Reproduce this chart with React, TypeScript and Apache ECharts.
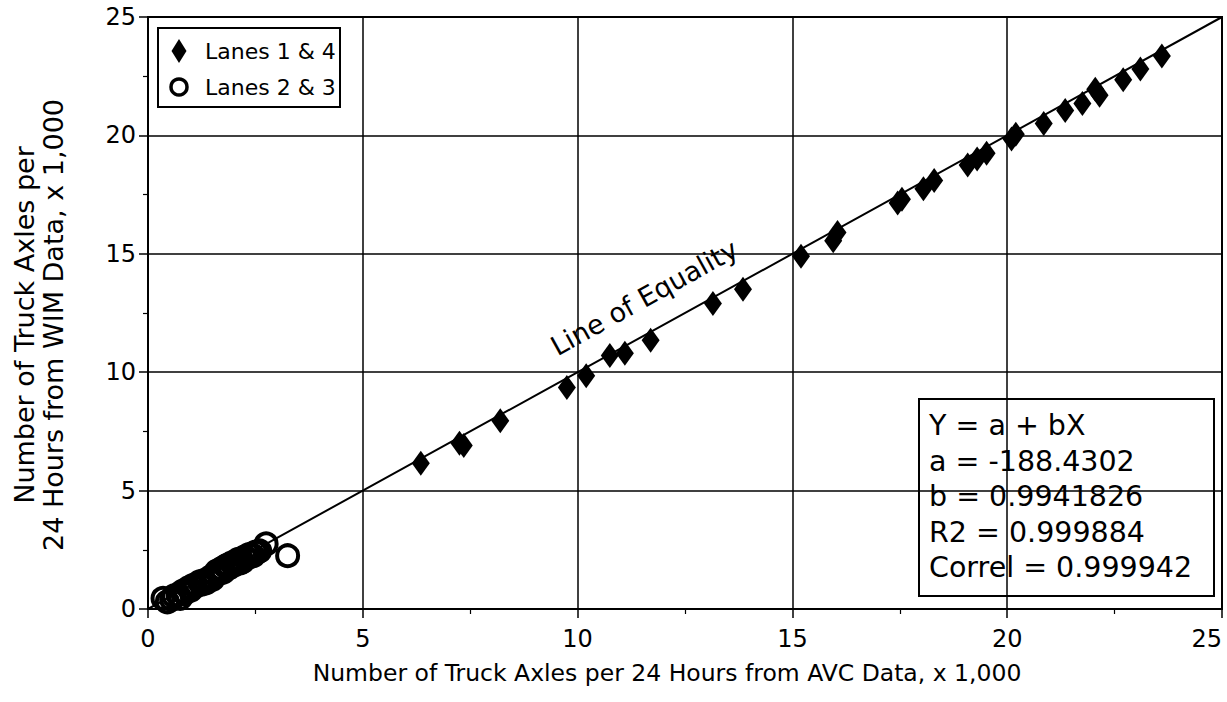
import React, { useEffect, useRef } from "react";
import * as echarts from "echarts";

const lanes14: [number, number][] = [
  [6.35, 6.15], [7.25, 7.0], [7.35, 6.9], [8.2, 7.95], [9.75, 9.35], [10.2, 9.85],
  [10.75, 10.7], [11.1, 10.8], [11.7, 11.35], [13.15, 12.9], [13.85, 13.5],
  [15.2, 14.9], [15.95, 15.55], [16.05, 15.9], [17.45, 17.15], [17.55, 17.3],
  [18.05, 17.75], [18.3, 18.1], [19.08, 18.75], [19.3, 19.0], [19.52, 19.25],
  [20.1, 19.85], [20.2, 20.05], [20.85, 20.5], [21.35, 21.05], [21.75, 21.35],
  [22.05, 21.95], [22.15, 21.7], [22.7, 22.35], [23.1, 22.8], [23.6, 23.35],
];

const lanes23: [number, number][] = [
  [0.35, 0.45], [0.45, 0.3], [0.55, 0.4], [0.6, 0.55], [0.7, 0.6], [0.75, 0.45],
  [0.8, 0.75], [0.85, 0.65], [0.95, 0.9], [1.0, 0.8], [1.05, 1.0], [1.1, 0.95],
  [1.2, 1.15], [1.25, 1.05], [1.3, 1.2], [1.35, 1.1], [1.45, 1.35], [1.5, 1.25],
  [1.55, 1.45], [1.6, 1.6], [1.65, 1.5], [1.7, 1.7], [1.75, 1.55], [1.8, 1.8],
  [1.85, 1.85], [1.9, 1.75], [1.95, 1.95], [2.0, 1.85], [2.05, 2.0], [2.1, 2.1],
  [2.15, 1.95], [2.2, 2.0], [2.25, 2.2], [2.3, 2.15], [2.35, 2.3], [2.4, 2.3],
  [2.45, 2.25], [2.5, 2.4], [2.55, 2.4], [2.6, 2.45], [2.75, 2.75], [3.25, 2.25],
];

const equalityLine: [number, number][] = [[0, 0], [25, 25]];
const equalityLabelPos: [number, number][] = [[11.55, 13.15]];

const legendNames = ["Lanes 1 & 4", "Lanes 2 & 3"];

const statsLines = [
  "Y = a + bX",
  "a = -188.4302",
  "b = 0.9941826",
  "R2 = 0.999884",
  "Correl = 0.999942",
];

const xTitle = "Number of Truck Axles per 24 Hours from AVC Data, x 1,000";
const yTitle = "Number of Truck Axles per\n24 Hours from WIM Data, x 1,000";

const FONT = "DejaVu Sans";

export default function App() {
  const ref = useRef<HTMLDivElement>(null);
  useEffect(() => {
    document.body.style.margin = "0";
    const chart = echarts.init(ref.current!, undefined, { renderer: "svg" });
    const axisCommon = {
      type: "value" as const,
      min: 0,
      max: 25,
      interval: 5,
      axisLine: { show: true, lineStyle: { color: "#000", width: 2 } },
      axisTick: { show: true, inside: false, length: 9, lineStyle: { color: "#000", width: 1.5 } },
      minorTick: { show: true, splitNumber: 2, length: 5, lineStyle: { color: "#000", width: 1.2 } },
      splitLine: { show: true, lineStyle: { color: "#000", width: 1.5 } },
      axisLabel: { color: "#000", fontSize: 24, fontFamily: FONT },
    };
    chart.setOption({
      animation: false,
      backgroundColor: "#fff",
      textStyle: { fontFamily: FONT },
      grid: {
        left: 148, right: 5, top: 17, bottom: 93,
        outerBoundsMode: "none",
        containLabel: false,
        show: true, borderColor: "#000", borderWidth: 2,
      },
      xAxis: {
        ...axisCommon,
        axisLabel: { ...axisCommon.axisLabel, margin: 18, alignMaxLabel: "right" },
        name: xTitle,
        nameLocation: "middle",
        nameGap: 52,
        nameTextStyle: { color: "#000", fontSize: 23.5, fontFamily: FONT, padding: [0, 36, 0, 0] },
      },
      yAxis: {
        ...axisCommon,
        axisLabel: { ...axisCommon.axisLabel, margin: 12 },
        name: yTitle,
        nameLocation: "middle",
        nameGap: 80,
        nameTextStyle: { color: "#000", fontSize: 27, lineHeight: 29, fontFamily: FONT, padding: [0, 24, 0, 0] },
      },
      series: [
        {
          type: "line",
          data: equalityLine,
          symbol: "none",
          lineStyle: { color: "#000", width: 2 },
          z: 1,
          silent: true,
        },
        {
          name: legendNames[0],
          type: "scatter",
          data: lanes14,
          symbol: "diamond",
          symbolSize: [18, 25],
          itemStyle: { color: "#000", opacity: 1 },
          z: 3,
        },
        {
          name: legendNames[1],
          type: "scatter",
          data: lanes23,
          symbol: "circle",
          symbolSize: 21,
          itemStyle: { color: "rgba(255,255,255,0)", borderColor: "#000", borderWidth: 4, opacity: 1 },
          z: 3,
        },
        {
          type: "scatter",
          data: equalityLabelPos,
          symbolSize: 0,
          silent: true,
          itemStyle: { opacity: 1 },
          label: {
            show: true,
            position: "inside",
            formatter: "Line of Equality",
            rotate: 29,
            color: "#000",
            opacity: 1,
            fontSize: 27,
            fontFamily: FONT,
          },
          z: 4,
        },
      ],
      graphic: [
        {
          type: "group",
          left: 157,
          top: 27,
          z: 10,
          children: [
            {
              type: "rect",
              shape: { x: 0, y: 0, width: 182, height: 79 },
              style: { fill: "#fff", stroke: "#000", lineWidth: 2 },
            },
            {
              type: "polygon",
              shape: { points: [[21, 11], [28.5, 23], [21, 35], [13.5, 23]] },
              style: { fill: "#000" },
            },
            {
              type: "circle",
              shape: { cx: 21, cy: 59, r: 8 },
              style: { fill: "none", stroke: "#000", lineWidth: 3.5 },
            },
            {
              type: "text",
              x: 47,
              y: 23,
              style: { text: legendNames[0], fill: "#000", font: `22px '${FONT}'`, verticalAlign: "middle" },
            },
            {
              type: "text",
              x: 47,
              y: 59,
              style: { text: legendNames[1], fill: "#000", font: `22px '${FONT}'`, verticalAlign: "middle" },
            },
          ],
        },
        {
          type: "group",
          left: 918,
          top: 398,
          z: 10,
          children: [
            {
              type: "rect",
              shape: { x: 0, y: 0, width: 295, height: 197 },
              style: { fill: "#fff", stroke: "#000", lineWidth: 2 },
            },
            {
              type: "text",
              x: 10,
              y: 9,
              style: {
                text: statsLines.join("\n"),
                fill: "#000",
                font: `28.5px '${FONT}'`,
                lineHeight: 35.5,
              },
            },
          ],
        },
      ],
    });
    return () => chart.dispose();
  }, []);
  return <div ref={ref} style={{ width: 1227, height: 702 }} />;
}
